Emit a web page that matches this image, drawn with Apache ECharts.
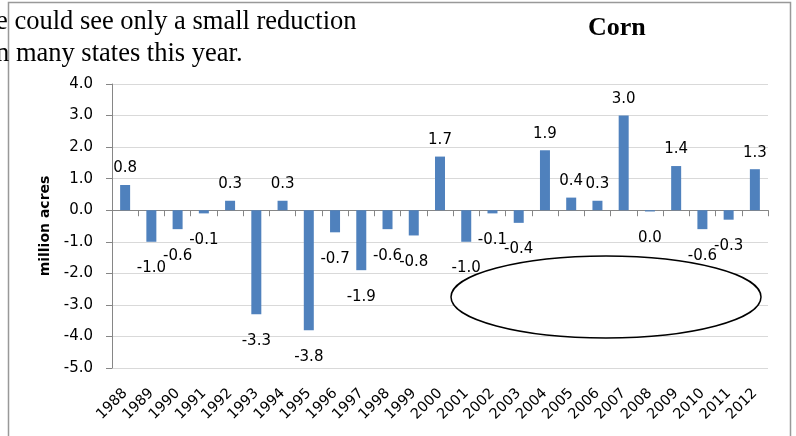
<!DOCTYPE html>
<html>
<head>
<meta charset="utf-8">
<script src="https://cdn.jsdelivr.net/npm/echarts@6/dist/echarts.min.js"></script>
<style>
  html, body { margin: 0; padding: 0; background: #fff; }
  #chart { width: 796px; height: 436px; }
</style>
</head>
<body>
<div id="chart"></div>
<script>
// Year-over-year change in corn planted area, million acres
const years = ['1988','1989','1990','1991','1992','1993','1994','1995','1996','1997',
  '1998','1999','2000','2001','2002','2003','2004','2005','2006','2007',
  '2008','2009','2010','2011','2012'];
const changes = [0.8, -1.0, -0.6, -0.1, 0.3, -3.3, 0.3, -3.8, -0.7, -1.9,
  -0.6, -0.8, 1.7, -1.0, -0.1, -0.4, 1.9, 0.4, 0.3, 3.0,
  -0.04, 1.4, -0.6, -0.3, 1.3];
const yMin = -5, yMax = 4, yStep = 1;
const captionLines = ['e could see only a small reduction', 'n many states this year.'];
const chartTitle = 'Corn';
const yAxisTitle = 'million acres';

const sans = 'DejaVu Sans';
const serif = 'Liberation Serif';
const axisGray = '#868686';

function fmt(v) {
  const r = Math.round(v * 10) / 10;
  return r.toFixed(1);
}

const barData = changes.map(v => ({
  value: v,
  label: v >= 0 ? { position: 'top', distance: 9 } : { position: 'bottom', distance: 19 }
}));

const chart = echarts.init(document.getElementById('chart'), null, { renderer: 'canvas' });
chart.setOption({
  backgroundColor: '#fff',
  animation: false,
  grid: { left: 112, right: 28, top: 84, bottom: 68, containLabel: false },
  xAxis: [
    {
      type: 'category', data: years, position: 'bottom',
      axisLine: { show: false, onZero: false },
      axisTick: { show: false },
      splitLine: { show: false },
      axisLabel: { interval: 0, rotate: 45, margin: 23, fontFamily: sans, fontSize: 14.5, color: '#000' }
    },
    {
      type: 'category', data: years, position: 'top',
      axisLine: { show: true, onZero: true, onZeroAxisIndex: 0, lineStyle: { color: axisGray, width: 1 } },
      axisTick: { show: true, inside: true, length: 6, interval: 0, lineStyle: { color: axisGray } },
      axisLabel: { show: false },
      splitLine: { show: false }
    }
  ],
  yAxis: {
    type: 'value', min: yMin, max: yMax, interval: yStep,
    name: yAxisTitle, nameLocation: 'middle', nameGap: 56,
    nameTextStyle: { fontFamily: sans, fontSize: 14, fontWeight: 'bold', color: '#000' },
    axisLine: { show: true, lineStyle: { color: axisGray } },
    axisTick: { show: true, length: 6, lineStyle: { color: axisGray } },
    splitLine: { show: true, lineStyle: { color: '#d9d9d9', width: 1 } },
    axisLabel: { margin: 19, fontFamily: sans, fontSize: 15, color: '#000', formatter: v => v.toFixed(1) }
  },
  series: [{
    type: 'bar',
    xAxisIndex: 0,
    data: barData,
    barWidth: 10,
    itemStyle: { color: '#4f81bd' },
    label: {
      show: true, fontFamily: sans, fontSize: 15, color: '#000',
      formatter: p => fmt(p.value)
    }
  }],
  graphic: [
    {
      type: 'rect', z: 0, silent: true,
      shape: { x: 8.5, y: 2.5, width: 782, height: 460 },
      style: { fill: 'none', stroke: '#999', lineWidth: 1.5 }
    },
    {
      type: 'ellipse', z: 100, silent: true,
      shape: { cx: 606, cy: 297, rx: 155, ry: 41 },
      style: { fill: '#fff', stroke: '#000', lineWidth: 1.5 }
    },
    {
      type: 'text', z: 100, silent: true, left: -4, top: 9,
      style: { text: captionLines[0], font: '26.5px "' + serif + '"', fill: '#000' }
    },
    {
      type: 'text', z: 100, silent: true, left: -4, top: 41,
      style: { text: captionLines[1], font: '26.5px "' + serif + '"', fill: '#000' }
    },
    {
      type: 'text', z: 100, silent: true, left: 588, top: 15,
      style: { text: chartTitle, font: 'bold 26px "' + serif + '"', fill: '#000' }
    }
  ]
});
</script>
</body>
</html>
